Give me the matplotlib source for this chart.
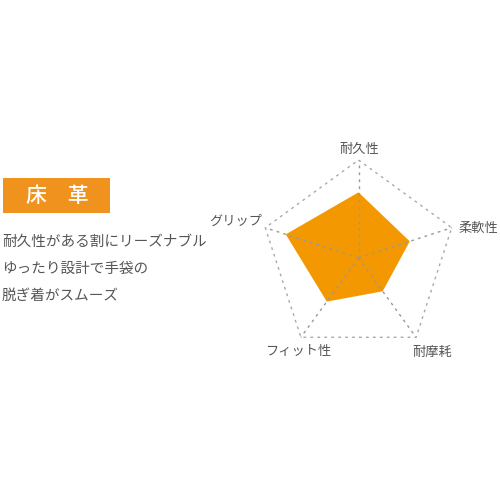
import numpy as np
import matplotlib
matplotlib.use("Agg")
from matplotlib import pyplot as plt
from matplotlib.patches import Rectangle

plt.rcParams['font.family'] = ['Noto Sans CJK JP', 'DejaVu Sans']

# データ
labels = ['耐久性', '柔軟性', '耐摩耗', 'フィット性', 'グリップ']
values = [0.67, 0.55, 0.42, 0.55, 0.78]
title_text = '床　革'
desc_lines = ['耐久性がある割にリーズナブル', 'ゆったり設計で手袋の', '脱ぎ着がスムーズ']

orange = '#F39800'
cx, cy, R = 358.5, 258, 98

fig = plt.figure(figsize=(5, 5), dpi=100)
ax = fig.add_axes([0, 0, 1, 1])
ax.set_xlim(0, 500)
ax.set_ylim(500, 0)
ax.axis('off')

n = len(labels)
ang = np.pi / 2 - np.arange(n) * 2 * np.pi / n
ux, uy = np.cos(ang), -np.sin(ang)

# 塗りつぶし
vals = np.array(values)
ax.fill(cx + R * vals * ux, cy + R * vals * uy, color=orange, lw=0, zorder=1)

# 外枠と軸（点線）
ox = np.append(cx + R * ux, cx + R * ux[0])
oy = np.append(cy + R * uy, cy + R * uy[0])
ax.plot(ox, oy, ls=(0, (2, 3)), c='#aaaaaa', lw=1, zorder=2)
for i in range(n):
    ax.plot([cx, cx + R * ux[i]], [cy, cy + R * uy[i]], ls=(0, (2, 3)), c='#999999', lw=1, zorder=2)

# ラベル
lpos = [(359, 149, 'center'), (478, 228, 'center'), (432, 352, 'center'),
        (298, 352, 'center'), (262, 221, 'right')]
for lab, (x, y, ha) in zip(labels, lpos):
    ax.text(x, y, lab, ha=ha, va='center', fontsize=9.5, color='#555555')

# 左側のタイトルと説明
ax.add_patch(Rectangle((3, 178), 107, 35, color='#F0921E', lw=0))
ax.text(57, 196, title_text, ha='center', va='center', fontsize=15, color='white', weight='medium')
for k, line in enumerate(desc_lines):
    ax.text(2, 242 + 27 * k, line, ha='left', va='center', fontsize=10.5, color='#555555')

fig.savefig('out.png', dpi=100)
